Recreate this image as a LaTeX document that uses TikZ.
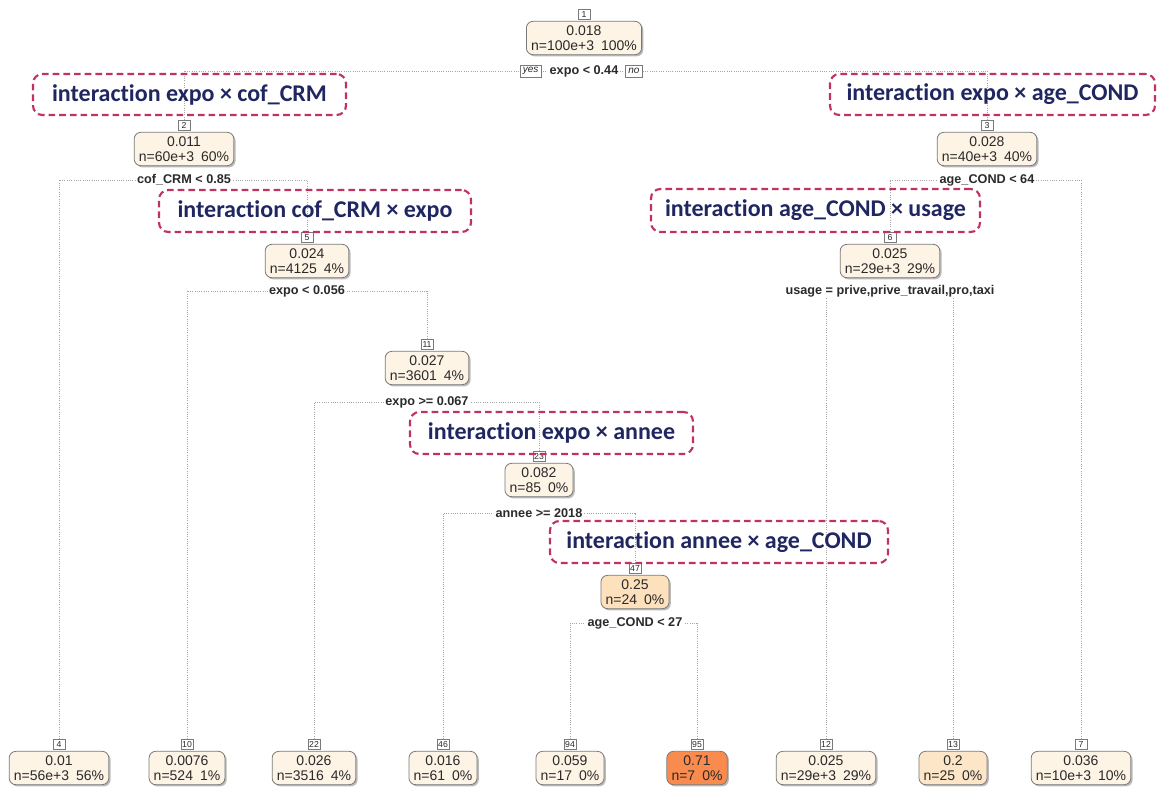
\documentclass[tikz,border=0pt]{standalone}
\usepackage{fontspec}
\setmainfont{Liberation Sans}
\newfontfamily\intfont{Carlito}[Ligatures=NoCommon]
\usetikzlibrary{shadows}
\definecolor{cream}{HTML}{FEF4E6}
\definecolor{peach}{HTML}{FDE0BC}
\definecolor{peachB}{HTML}{FDE6C8}
\definecolor{hot}{HTML}{F98B4F}
\definecolor{crim}{HTML}{C1335F}
\definecolor{navy}{HTML}{1F2660}
\definecolor{edge}{HTML}{7A7A7A}
\definecolor{ink}{HTML}{2A2A2A}
\pgfdeclarelayer{bg}
\pgfsetlayers{bg,main}
\tikzset{
  tnode/.style={draw=edge, line width=0.6pt, fill=cream, rounded corners=5pt,
    align=center, text=ink, font=\fontsize{10.5}{11.5}\selectfont, inner xsep=3.5pt,
    inner ysep=2pt, minimum height=25pt,
    drop shadow={shadow xshift=1.3pt, shadow yshift=-1.3pt, fill=black!45, opacity=0.6}},
  nbox/.style={draw=edge, line width=0.5pt, fill=white, text=ink,
    font=\fontsize{6.5}{6.5}\selectfont, inner sep=0.8pt, minimum width=9pt,
    minimum height=7.5pt, anchor=south, yshift=1pt,
    drop shadow={shadow xshift=0.8pt, shadow yshift=-0.8pt, fill=black!40, opacity=0.6}},
  split/.style={fill=white, text=ink, font=\fontsize{9.5}{10}\selectfont\bfseries, inner sep=1pt},
  yn/.style={draw=edge, line width=0.5pt, fill=white, text=ink,
    font=\fontsize{7.5}{8}\selectfont\itshape, inner xsep=2pt, inner ysep=1pt, minimum height=9pt},
  br/.style={densely dotted, gray!70, line width=0.7pt},
  inter/.style={draw=crim, line width=1.6pt, dash pattern=on 5pt off 3pt,
    rounded corners=7pt, text=navy,
    font=\intfont\fontsize{18}{20}\selectfont\bfseries},
}
\begin{document}
\begin{tikzpicture}[x=0.75pt,y=-0.75pt]
\useasboundingbox (0,0) rectangle (1157,789);

% inner nodes
\node[tnode] (n1) at (584,38) {0.018\\n=100e+3\enspace 100\%};
\node[nbox] (n1n) at (n1.north) {1};
\node[split] (s1) at (584,71) {expo < 0.44};
\node[yn, anchor=east] (yes) at ([xshift=-5pt]s1.west) {yes};
\node[yn, anchor=west] (no) at ([xshift=4pt]s1.east) {no};

\node[tnode] (n2) at (184,149) {0.011\\n=60e+3\enspace 60\%};
\node[nbox] (n2n) at (n2.north) {2};
\node[split] (s2) at (184,180) {cof\_CRM < 0.85};

\node[tnode] (n3) at (987,149) {0.028\\n=40e+3\enspace 40\%};
\node[nbox] (n3n) at (n3.north) {3};
\node[split] (s3) at (987,180) {age\_COND < 64};

\node[tnode] (n5) at (307,261) {0.024\\n=4125\enspace 4\%};
\node[nbox] (n5n) at (n5.north) {5};
\node[split] (s5) at (307,291) {expo < 0.056};

\node[tnode] (n6) at (890,261) {0.025\\n=29e+3\enspace 29\%};
\node[nbox] (n6n) at (n6.north) {6};
\node[split] (s6) at (890,291) {usage = prive,prive\_travail,pro,taxi};

\node[tnode] (n11) at (427,368) {0.027\\n=3601\enspace 4\%};
\node[nbox] (n11n) at (n11.north) {11};
\node[split] (s11) at (427,402) {expo >= 0.067};

\node[tnode] (n23) at (539,480) {0.082\\n=85\enspace 0\%};
\node[nbox] (n23n) at (n23.north) {23};
\node[split] (s23) at (539,513) {annee >= 2018};

\node[tnode, fill=peach] (n47) at (635,592) {0.25\\n=24\enspace 0\%};
\node[nbox] (n47n) at (n47.north) {47};
\node[split] (s47) at (635,623) {age\_COND < 27};

% leaves
\node[tnode] (l4) at (59,768) {0.01\\n=56e+3\enspace 56\%};
\node[nbox] (l4n) at (l4.north) {4};
\node[tnode] (l10) at (187,768) {0.0076\\n=524\enspace 1\%};
\node[nbox] (l10n) at (l10.north) {10};
\node[tnode] (l22) at (314,768) {0.026\\n=3516\enspace 4\%};
\node[nbox] (l22n) at (l22.north) {22};
\node[tnode] (l46) at (443,768) {0.016\\n=61\enspace 0\%};
\node[nbox] (l46n) at (l46.north) {46};
\node[tnode] (l94) at (570,768) {0.059\\n=17\enspace 0\%};
\node[nbox] (l94n) at (l94.north) {94};
\node[tnode, fill=hot] (l95) at (697,768) {0.71\\n=7\enspace 0\%};
\node[nbox] (l95n) at (l95.north) {95};
\node[tnode] (l12) at (826,768) {0.025\\n=29e+3\enspace 29\%};
\node[nbox] (l12n) at (l12.north) {12};
\node[tnode, fill=peachB] (l13) at (953,768) {0.2\\n=25\enspace 0\%};
\node[nbox] (l13n) at (l13.north) {13};
\node[tnode] (l7) at (1081,768) {0.036\\n=10e+3\enspace 10\%};
\node[nbox] (l7n) at (l7.north) {7};

% branches
\begin{pgfonlayer}{bg}
\draw[br] (n2n.north) |- (s1);
\draw[br] (n3n.north) |- (s1);
\draw[br] (l4n.north) |- (s2);
\draw[br] (n5n.north) |- (s2);
\draw[br] (n6n.north) |- (s3);
\draw[br] (l7n.north) |- (s3);
\draw[br] (l10n.north) |- (s5);
\draw[br] (n11n.north) |- (s5);
\draw[br] (l12n.north) |- (s6);
\draw[br] (l13n.north) |- (s6);
\draw[br] (l22n.north) |- (s11);
\draw[br] (n23n.north) |- (s11);
\draw[br] (l46n.north) |- (s23);
\draw[br] (n47n.north) |- (s23);
\draw[br] (l94n.north) |- (s47);
\draw[br] (l95n.north) |- (s47);
\end{pgfonlayer}

% interaction annotations
\node[inter, minimum width=234.75pt, minimum height=30.75pt] (i1) at (189.5,94.5) {interaction expo × cof\_CRM};
\node[inter, minimum width=243.75pt, minimum height=30.75pt] (i2) at (992.5,94.5) {interaction expo × age\_COND};
\node[inter, minimum width=234pt, minimum height=31.5pt] (i3) at (315,211) {interaction cof\_CRM × expo};
\node[inter, minimum width=246.75pt, minimum height=32.25pt] (i4) at (815.5,210.5) {interaction age\_COND × usage};
\node[inter, minimum width=212.25pt, minimum height=31.5pt] (i5) at (551.5,433) {interaction expo × annee};
\node[inter, minimum width=253.5pt, minimum height=31.5pt] (i6) at (719,542) {interaction annee × age\_COND};
\end{tikzpicture}
\end{document}
